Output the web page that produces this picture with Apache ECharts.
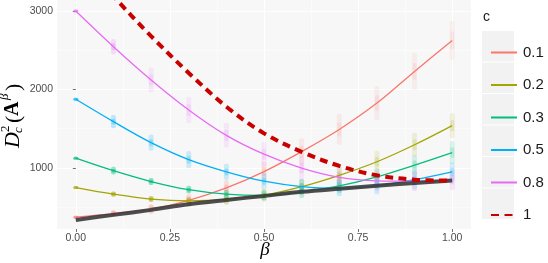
<!DOCTYPE html>
<html>
<head>
<meta charset="utf-8">
<script src="https://cdn.jsdelivr.net/npm/echarts@6/dist/echarts.min.js"></script>
<style>html,body{margin:0;padding:0;background:#fff}#c{width:548px;height:263px}</style>
</head>
<body>
<div id="c"></div>
<script>
// ---- data ----
const betas = [0, 0.1, 0.2, 0.3, 0.4, 0.5, 0.6, 0.7, 0.8, 0.9, 1.0];
const cNames = ['0.1', '0.2', '0.3', '0.5', '0.8', '1'];
const c01 = [372, 418, 474, 586, 745, 953, 1208, 1490, 1826, 2230, 2625];
const c02 = [749, 666, 603, 580, 598, 652, 760, 905, 1078, 1295, 1539];
const c03 = [1124, 964, 826, 722, 665, 650, 695, 770, 885, 1035, 1195];
const c05 = [1875, 1590, 1322, 1105, 950, 830, 762, 742, 775, 850, 949];
const c08 = [3000, 2545, 2121, 1739, 1415, 1175, 998, 880, 835, 830, 845];
const c1  = [3750, 3190, 2680, 2210, 1780, 1440, 1205, 1025, 905, 850, 838];
const bound = [337, 401, 465, 537, 592, 643, 695, 735, 772, 808, 838];
// half-spread of the simulated point clouds around each curve
const s01 = [0, 20, 40, 60, 80, 110, 150, 180, 200, 220, 230];
const s02 = [0, 15, 20, 30, 45, 60, 80, 100, 120, 135, 140];
const s03 = [0, 30, 25, 30, 35, 45, 60, 75, 95, 110, 130];
const s05 = [0, 65, 85, 90, 85, 85, 80, 85, 95, 105, 105];
const s08 = [0, 80, 140, 150, 140, 140, 130, 120, 110, 110, 110];
const yTicks = [1000, 2000, 3000];
const yMinor = [500, 1500, 2500];
const xTicks = [0, 0.25, 0.5, 0.75, 1.0];
const xMinor = [0.125, 0.375, 0.625, 0.875];

const colors = ['#F8766D', '#A3A500', '#00BF7D', '#00B0F6', '#E76BF3'];
const curves = [c01, c02, c03, c05, c08];
const spreads = [s01, s02, s03, s05, s08];
const Y_MIN = 221, Y_MAX = 3140, X_MIN = -0.05, X_MAX = 1.05;

const pairs = arr => betas.map((b, i) => [b, arr[i]]);

function cloudRenderer(color) {
  return function (params, api) {
    const x = api.value(0), y = api.value(1), s = api.value(2);
    const p = api.coord([x, y]);
    const top = api.coord([x, y + s])[1];
    const bot = api.coord([x, y - s])[1];
    const h = Math.max(bot - top, 0) + 3;
    const op = Math.max(0.06, Math.min(0.75, 3 / h));
    const ih = h * 0.45;
    const children = [
      { type: 'rect', shape: { x: p[0] - 2.5, y: top - 1.5, width: 5, height: h, r: 2 },
        style: { fill: color, opacity: op } }
    ];
    if (s > 0) {
      children.push({ type: 'rect', shape: { x: p[0] - 2, y: p[1] - ih / 2, width: 4, height: ih, r: 1.5 },
        style: { fill: color, opacity: op * 1.3 } });
    }
    return { type: 'group', children };
  };
}

const series = [];
curves.forEach((arr, k) => {
  series.push({
    name: 'cloud' + k, type: 'custom', clip: true, silent: true, z: 1,
    renderItem: cloudRenderer(colors[k]),
    data: betas.map((b, i) => [b, arr[i], spreads[k][i]])
  });
});
curves.forEach((arr, k) => {
  series.push({
    name: cNames[k], type: 'line', data: pairs(arr), smooth: 0.35, symbol: 'none', z: 2,
    color: colors[k], lineStyle: { color: colors[k], width: 1.3 }
  });
});
series.push({
  name: 'bound', type: 'line', data: pairs(bound), smooth: 0.35, symbol: 'none', z: 3,
  lineStyle: { color: '#3a3a3a', width: 4, opacity: 0.9 }
});
series.push({
  name: '1', type: 'line', data: pairs(c1), smooth: 0.35, symbol: 'none', z: 4,
  color: '#C80000', lineStyle: { color: '#C80000', width: 4, type: [8, 5.5], cap: 'butt' }
});

const chart = echarts.init(document.getElementById('c'), null, { renderer: 'canvas' });
const legendKeys = cNames.map((n, i) => ({
  type: 'rect', z: 1, shape: { x: 482, y: 31 + i * 31.5, width: 32, height: 30.5 },
  style: { fill: '#f2f2f2' }
}));
const serif = '"Liberation Serif", "DejaVu Serif", serif';
chart.setOption({
  animation: false,
  grid: { left: 57, right: 77, top: 0, bottom: 34, show: true, backgroundColor: '#f7f7f7', borderWidth: 0 },
  xAxis: [{
    type: 'value', min: X_MIN, max: X_MAX,
    axisLine: { show: false },
    axisTick: { show: true, length: 3, lineStyle: { color: '#4d4d4d', width: 0.8 }, customValues: xTicks },
    axisLabel: { customValues: xTicks, formatter: v => v.toFixed(2), margin: 4, fontSize: 10.5, color: '#4d4d4d', fontFamily: 'Liberation Sans' },
    splitLine: { show: true, lineStyle: { color: '#ffffff', width: 1.1 } }
  }, {
    type: 'value', min: X_MIN, max: X_MAX, position: 'bottom',
    axisLine: { show: false }, axisLabel: { show: false, customValues: xMinor },
    axisTick: { show: false, customValues: xMinor },
    splitLine: { show: true, lineStyle: { color: '#ffffff', width: 0.5 } }
  }],
  yAxis: [{
    type: 'value', min: Y_MIN, max: Y_MAX,
    axisLine: { show: false },
    axisTick: { show: true, length: 3, lineStyle: { color: '#4d4d4d', width: 0.8 }, customValues: yTicks },
    axisLabel: { customValues: yTicks, formatter: v => String(Math.round(v)), margin: 4, fontSize: 10.5, color: '#4d4d4d', fontFamily: 'Liberation Sans' },
    splitLine: { show: true, lineStyle: { color: '#ffffff', width: 1.1 } }
  }, {
    type: 'value', min: Y_MIN, max: Y_MAX, position: 'left',
    axisLine: { show: false }, axisLabel: { show: false, customValues: yMinor },
    axisTick: { show: false, customValues: yMinor },
    splitLine: { show: true, lineStyle: { color: '#ffffff', width: 0.5 } }
  }],
  legend: {
    orient: 'vertical', left: 485, top: 40, itemWidth: 26, itemHeight: 14, itemGap: 17.5,
    data: cNames,
    itemStyle: { opacity: 0 },
    lineStyle: { width: 2 },
    textStyle: { fontSize: 15, color: '#1a1a1a', fontFamily: 'Liberation Sans', padding: [0, 0, 0, 1] }
  },
  graphic: [
    ...legendKeys,
    { type: 'text', z: 5, left: 483, top: 10, style: { text: 'c', fontSize: 14, fill: '#1a1a1a', fontFamily: 'Liberation Sans' } },
    { type: 'text', z: 5, x: 265, y: 250, style: { text: 'β', fontSize: 19, fontStyle: 'italic', fill: '#000', fontFamily: serif, align: 'center', verticalAlign: 'middle' } },
    {
      type: 'group', x: 13, y: 148, rotation: Math.PI / 2, z: 5,
      children: [
        { type: 'text', x: 0, y: 0, style: { text: 'D', fontSize: 22, fontStyle: 'italic', fill: '#000', fontFamily: serif, verticalAlign: 'middle' } },
        { type: 'text', x: 16, y: -7, style: { text: '2', fontSize: 13, fill: '#000', fontFamily: serif, verticalAlign: 'middle' } },
        { type: 'text', x: 15, y: 6, style: { text: 'c', fontSize: 13, fontStyle: 'italic', fill: '#000', fontFamily: serif, verticalAlign: 'middle' } },
        { type: 'text', x: 25, y: 1, style: { text: '(', fontSize: 22, fill: '#000', fontFamily: serif, verticalAlign: 'middle' } },
        { type: 'text', x: 32, y: 0, style: { text: 'A', fontSize: 20, fontWeight: 'bold', fill: '#000', fontFamily: serif, verticalAlign: 'middle' } },
        { type: 'text', x: 48, y: -8, style: { text: 'β', fontSize: 13, fontStyle: 'italic', fill: '#000', fontFamily: serif, verticalAlign: 'middle' } },
        { type: 'text', x: 57, y: 1, style: { text: ')', fontSize: 22, fill: '#000', fontFamily: serif, verticalAlign: 'middle' } }
      ]
    }
  ],
  series: series
});
</script>
</body>
</html>
